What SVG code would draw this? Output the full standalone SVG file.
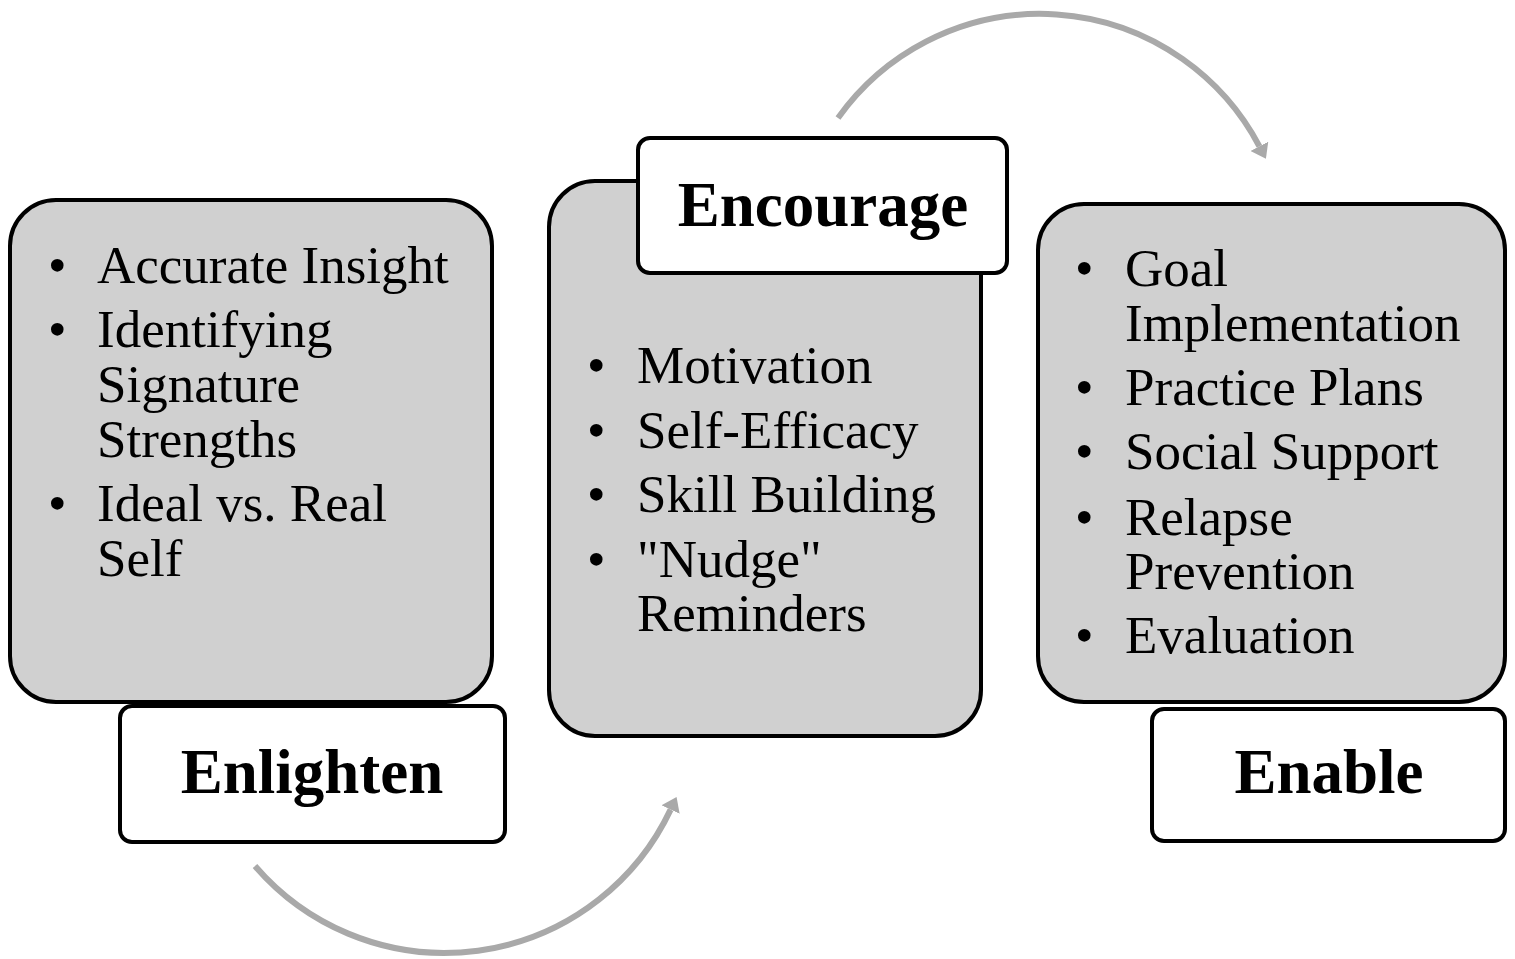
<svg xmlns="http://www.w3.org/2000/svg" width="1515" height="959" viewBox="0 0 1515 959">
  <defs>
    <style>
      .panel { fill: #d0d0d0; stroke: #000; stroke-width: 4; }
      .label { fill: #fff; stroke: #000; stroke-width: 4; }
      .item { font-family: "Liberation Serif", "Times New Roman", serif; font-size: 53px; fill: #000; }
      .title { font-family: "Liberation Serif", "Times New Roman", serif; font-size: 63px; font-weight: bold; fill: #000; }
      .flow { fill: none; stroke: #a9a9a9; stroke-width: 6; }
    </style>
    <marker id="head" viewBox="0 -10 14 20" refX="0" refY="0" markerWidth="14" markerHeight="20" markerUnits="userSpaceOnUse" orient="auto">
      <path d="M0,-10 L14,0 L0,10 z" fill="#a9a9a9"/>
    </marker>
  </defs>

  <!-- curved flow arrows -->
  <g id="connectors">
    <path class="flow" d="M 255 866 A 250 250 0 0 0 670.6 809.6" marker-end="url(#head)"/>
    <path class="flow" d="M 838 118 A 248 248 0 0 1 1259.4 146.3" marker-end="url(#head)"/>
  </g>

  <!-- Enlighten -->
  <g id="enlighten">
    <rect class="panel" x="10" y="200" width="482" height="502" rx="46" ry="46"/>
    <text class="item">
      <tspan x="48" y="283">•</tspan><tspan x="97" y="283">Accurate Insight</tspan>
      <tspan x="48" y="347">•</tspan><tspan x="97" y="347">Identifying</tspan>
      <tspan x="97" y="402">Signature</tspan>
      <tspan x="97" y="457">Strengths</tspan>
      <tspan x="48" y="521">•</tspan><tspan x="97" y="521">Ideal vs. Real</tspan>
      <tspan x="97" y="576">Self</tspan>
    </text>
    <rect class="label" x="120" y="706" width="385" height="136" rx="12" ry="12"/>
    <text class="title" x="312" y="793" text-anchor="middle">Enlighten</text>
  </g>

  <!-- Encourage -->
  <g id="encourage">
    <rect class="panel" x="549" y="181" width="432" height="555" rx="46" ry="46"/>
    <text class="item">
      <tspan x="587" y="383">•</tspan><tspan x="637" y="383">Motivation</tspan>
      <tspan x="587" y="448">•</tspan><tspan x="637" y="448">Self-Efficacy</tspan>
      <tspan x="587" y="512">•</tspan><tspan x="637" y="512">Skill Building</tspan>
      <tspan x="587" y="577">•</tspan><tspan x="637" y="577">"Nudge"</tspan>
      <tspan x="637" y="631">Reminders</tspan>
    </text>
    <rect class="label" x="638" y="138" width="369" height="135" rx="12" ry="12"/>
    <text class="title" x="823" y="226" text-anchor="middle">Encourage</text>
  </g>

  <!-- Enable -->
  <g id="enable">
    <rect class="panel" x="1038" y="204" width="467" height="498" rx="46" ry="46"/>
    <text class="item">
      <tspan x="1075" y="286">•</tspan><tspan x="1125" y="286">Goal</tspan>
      <tspan x="1125" y="341">Implementation</tspan>
      <tspan x="1075" y="405">•</tspan><tspan x="1125" y="405">Practice Plans</tspan>
      <tspan x="1075" y="469">•</tspan><tspan x="1125" y="469">Social Support</tspan>
      <tspan x="1075" y="535">•</tspan><tspan x="1125" y="535">Relapse</tspan>
      <tspan x="1125" y="589">Prevention</tspan>
      <tspan x="1075" y="653">•</tspan><tspan x="1125" y="653">Evaluation</tspan>
    </text>
    <rect class="label" x="1152" y="709" width="353" height="132" rx="12" ry="12"/>
    <text class="title" x="1329" y="793" text-anchor="middle">Enable</text>
  </g>
</svg>
